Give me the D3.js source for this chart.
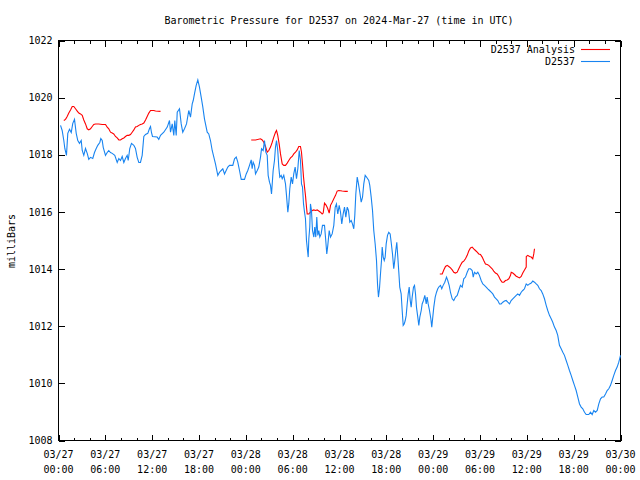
<!DOCTYPE html>
<html><head><meta charset="utf-8">
<script src="https://cdn.jsdelivr.net/npm/d3@7"></script>
<style>body{margin:0;background:#fff}svg{display:block}</style>
</head><body><svg id="c" width="640" height="480"></svg>
<script>
const title = "Barometric Pressure for D2537 on 2024-Mar-27 (time in UTC)";
const yLabel = "milliBars";
const seriesNames = ["D2537 Analysis", "D2537"];
const seriesColors = ["#ff0000", "#1884f0"];
const xTickHours = [0,6,12,18,24,30,36,42,48,54,60,66,72];
const xTickDates = ["03/27","03/27","03/27","03/27","03/28","03/28","03/28","03/28","03/29","03/29","03/29","03/29","03/30"];
const xTickTimes = ["00:00","06:00","12:00","18:00","00:00","06:00","12:00","18:00","00:00","06:00","12:00","18:00","00:00"];
const xMinorHours = d3.range(0, 73, 2);
const yTicks = [1008,1010,1012,1014,1016,1018,1020,1022];

// D2537 observations: [hours since 03/27 00:00 UTC, mbar]
const d2537 = [[0.26,1019.03],[0.47,1018.85],[0.68,1018.50],[0.81,1018.22],[1.02,1017.98],[1.19,1018.75],[1.41,1018.89],[1.63,1018.78],[1.83,1019.10],[2.05,1019.24],[2.27,1018.75],[2.47,1018.50],[2.69,1018.40],[2.91,1018.50],[3.04,1018.15],[3.24,1017.98],[3.46,1018.22],[3.68,1018.05],[3.88,1017.84],[4.10,1017.91],[4.39,1017.87],[4.61,1018.08],[4.83,1018.22],[5.03,1018.33],[5.29,1018.43],[5.42,1018.57],[5.60,1018.50],[5.73,1018.26],[6.02,1017.98],[6.24,1018.08],[6.44,1018.15],[6.66,1018.08],[6.88,1018.05],[7.21,1017.98],[7.52,1017.73],[7.73,1017.87],[7.94,1017.80],[8.16,1017.94],[8.37,1017.73],[8.58,1017.87],[8.80,1017.98],[8.93,1017.80],[9.13,1018.22],[9.35,1018.40],[9.65,1018.33],[9.86,1018.22],[10.08,1017.91],[10.29,1017.73],[10.50,1017.73],[10.72,1017.98],[10.93,1018.64],[11.15,1018.71],[11.44,1018.75],[11.66,1018.92],[11.79,1018.99],[11.91,1018.78],[12.04,1018.64],[12.64,1018.62],[12.85,1018.54],[13.07,1018.68],[13.49,1018.79],[13.93,1018.97],[14.22,1019.20],[14.35,1018.79],[14.57,1019.08],[14.77,1018.68],[14.90,1019.20],[15.08,1018.68],[15.21,1019.49],[15.50,1019.61],[15.72,1019.08],[15.92,1018.79],[16.14,1018.91],[16.40,1019.08],[16.69,1019.55],[16.91,1019.32],[17.13,1019.78],[17.26,1019.90],[17.42,1020.13],[17.64,1020.43],[17.85,1020.62],[18.06,1020.37],[18.28,1020.02],[18.49,1019.67],[18.70,1019.26],[19.05,1018.79],[19.25,1018.73],[19.47,1018.50],[19.69,1018.15],[19.90,1017.92],[20.11,1017.68],[20.41,1017.28],[20.63,1017.39],[20.84,1017.45],[21.05,1017.51],[21.27,1017.33],[21.48,1017.45],[21.69,1017.57],[21.91,1017.63],[22.33,1017.63],[22.55,1017.86],[22.77,1017.92],[22.97,1017.74],[23.19,1017.45],[23.41,1017.14],[23.83,1017.14],[24.05,1017.33],[24.25,1017.45],[24.47,1017.63],[24.69,1017.82],[24.81,1017.51],[24.94,1017.74],[25.11,1017.63],[25.24,1017.33],[25.46,1017.45],[25.66,1017.57],[25.88,1017.92],[26.01,1018.21],[26.22,1018.15],[26.39,1018.50],[26.56,1018.09],[26.74,1017.98],[26.86,1017.28],[27.03,1017.04],[27.16,1016.93],[27.29,1016.63],[27.38,1016.98],[27.50,1017.45],[27.67,1017.80],[27.80,1018.27],[27.93,1018.50],[28.09,1018.15],[28.22,1017.57],[28.35,1017.22],[28.53,1017.28],[28.66,1017.16],[28.86,1017.28],[29.08,1016.98],[29.21,1016.58],[29.38,1015.99],[29.50,1016.28],[29.63,1016.81],[29.81,1017.22],[29.98,1016.98],[30.14,1017.33],[30.32,1017.57],[30.49,1017.16],[30.66,1017.51],[30.84,1018.15],[31.00,1017.80],[31.13,1016.98],[31.26,1016.87],[31.39,1016.28],[31.52,1015.99],[31.64,1015.76],[31.77,1015.00],[31.90,1014.65],[31.99,1014.42],[32.07,1015.06],[32.19,1015.47],[32.28,1016.28],[32.41,1016.05],[32.54,1015.35],[32.71,1015.12],[32.83,1015.47],[32.96,1015.12],[33.09,1015.82],[33.22,1015.18],[33.35,1015.35],[33.48,1015.12],[33.65,1015.23],[33.82,1015.53],[34.08,1015.53],[34.24,1015.00],[34.37,1014.53],[34.50,1014.83],[34.68,1015.35],[34.85,1015.12],[35.06,1015.23],[35.27,1015.53],[35.45,1016.17],[35.61,1016.28],[35.78,1015.93],[35.96,1016.23],[36.13,1015.99],[36.29,1015.58],[36.47,1015.93],[36.64,1016.17],[36.81,1015.82],[36.99,1016.17],[37.15,1016.05],[37.32,1015.64],[37.50,1015.70],[37.66,1015.58],[37.83,1015.41],[37.96,1015.88],[38.09,1016.63],[38.27,1017.22],[38.43,1016.98],[38.60,1016.69],[38.78,1016.34],[38.95,1016.52],[39.11,1016.98],[39.29,1017.28],[39.46,1017.22],[39.75,1017.10],[39.88,1016.93],[40.06,1016.52],[40.23,1016.05],[40.39,1015.35],[40.57,1014.88],[40.74,1014.30],[40.87,1013.48],[40.99,1013.02],[41.12,1013.31],[41.25,1013.83],[41.38,1014.30],[41.47,1014.77],[41.60,1014.42],[41.73,1014.30],[41.85,1014.42],[41.98,1014.88],[42.15,1015.18],[42.31,1015.29],[42.49,1015.23],[42.62,1014.94],[42.79,1014.53],[42.95,1014.01],[43.08,1014.30],[43.21,1014.65],[43.34,1014.94],[43.47,1014.42],[43.60,1013.89],[43.72,1013.37],[43.90,1013.13],[44.03,1012.55],[44.16,1012.03],[44.29,1012.08],[44.42,1012.20],[44.54,1012.37],[44.67,1012.78],[44.80,1013.13],[44.93,1013.37],[45.06,1012.90],[45.18,1012.67],[45.31,1013.02],[45.48,1013.37],[45.61,1013.43],[45.74,1013.13],[45.86,1012.67],[46.03,1012.32],[46.16,1012.03],[46.29,1012.32],[46.47,1012.55],[46.59,1012.78],[46.76,1012.90],[46.93,1013.08],[47.11,1012.78],[47.23,1013.02],[47.36,1012.78],[47.53,1012.55],[47.70,1012.26],[47.82,1011.97],[47.95,1012.32],[48.08,1012.67],[48.26,1013.02],[48.43,1013.19],[48.59,1013.31],[48.77,1013.39],[48.94,1013.43],[49.10,1013.31],[49.28,1013.43],[49.49,1013.54],[49.71,1013.72],[49.87,1013.60],[50.05,1013.43],[50.22,1013.18],[50.44,1012.96],[50.64,1012.90],[50.86,1013.02],[51.08,1013.08],[51.28,1013.25],[51.50,1013.43],[51.72,1013.37],[51.92,1013.66],[52.14,1013.72],[52.36,1013.89],[52.56,1014.01],[52.78,1014.01],[53.00,1013.95],[53.13,1013.72],[53.29,1013.89],[53.51,1013.83],[53.72,1013.89],[53.93,1013.78],[54.15,1013.60],[54.36,1013.48],[54.57,1013.43],[54.79,1013.37],[55.00,1013.31],[55.22,1013.25],[55.43,1013.19],[55.64,1013.13],[55.86,1013.02],[56.07,1012.96],[56.28,1012.90],[56.50,1012.78],[56.71,1012.78],[56.92,1012.84],[57.14,1012.88],[57.35,1012.90],[57.56,1012.84],[57.78,1012.78],[57.99,1012.90],[58.20,1012.96],[58.42,1013.02],[58.64,1013.08],[58.84,1013.13],[59.06,1013.08],[59.28,1013.19],[59.48,1013.25],[59.70,1013.31],[59.92,1013.48],[60.12,1013.43],[60.34,1013.48],[60.56,1013.51],[60.76,1013.58],[60.98,1013.54],[61.20,1013.48],[61.40,1013.43],[61.62,1013.31],[61.84,1013.25],[62.04,1013.13],[62.26,1012.96],[62.48,1012.73],[62.68,1012.55],[62.90,1012.38],[63.12,1012.26],[63.32,1012.14],[63.54,1011.97],[63.76,1011.85],[63.96,1011.68],[64.18,1011.33],[64.40,1011.21],[64.61,1011.09],[64.82,1010.98],[65.04,1010.80],[65.25,1010.63],[65.46,1010.45],[65.68,1010.28],[65.89,1010.10],[66.10,1009.93],[66.32,1009.75],[66.53,1009.52],[66.75,1009.28],[66.96,1009.17],[67.17,1009.11],[67.39,1008.99],[67.60,1008.91],[67.94,1008.91],[68.16,1008.99],[68.37,1008.91],[68.58,1009.05],[68.80,1008.99],[69.02,1009.05],[69.22,1009.28],[69.44,1009.46],[69.65,1009.52],[69.86,1009.52],[70.08,1009.63],[70.29,1009.75],[70.50,1009.81],[70.72,1009.93],[70.93,1010.10],[71.14,1010.28],[71.36,1010.45],[71.57,1010.57],[71.78,1010.74],[72.00,1010.98]];

// D2537 Analysis: [hours, mbar]; null marks a gap
const d2537Analysis = [[0.68,1019.20],[0.90,1019.24],[1.11,1019.34],[1.32,1019.46],[1.54,1019.57],[1.76,1019.69],[1.96,1019.69],[2.18,1019.61],[2.40,1019.53],[2.60,1019.46],[2.82,1019.43],[3.04,1019.38],[3.24,1019.22],[3.46,1019.08],[3.68,1018.91],[3.88,1018.87],[4.10,1018.91],[4.32,1018.99],[4.52,1019.06],[4.74,1019.08],[5.16,1019.08],[5.60,1019.06],[6.02,1019.06],[6.24,1018.97],[6.44,1018.91],[6.66,1018.79],[6.88,1018.76],[7.08,1018.73],[7.30,1018.64],[7.52,1018.59],[7.73,1018.52],[7.94,1018.52],[8.16,1018.56],[8.37,1018.59],[8.58,1018.64],[8.80,1018.68],[9.01,1018.68],[9.22,1018.71],[9.44,1018.79],[9.65,1018.87],[9.86,1018.97],[10.08,1018.99],[10.29,1019.03],[10.50,1019.06],[10.72,1019.08],[10.93,1019.11],[11.15,1019.22],[11.36,1019.34],[11.57,1019.46],[11.79,1019.55],[12.00,1019.55],[12.21,1019.55],[12.43,1019.53],[13.07,1019.52],
null,
[24.69,1018.52],[25.24,1018.52],[25.88,1018.56],[26.10,1018.52],[26.30,1018.44],[26.52,1018.29],[26.74,1018.09],[26.94,1018.15],[27.16,1018.27],[27.38,1018.44],[27.58,1018.62],[27.80,1018.79],[27.93,1018.85],[28.09,1018.68],[28.27,1018.38],[28.44,1018.03],[28.66,1017.68],[28.86,1017.63],[29.08,1017.63],[29.30,1017.71],[29.50,1017.80],[29.72,1017.89],[29.94,1017.94],[30.14,1018.03],[30.36,1018.09],[30.58,1018.17],[30.78,1018.29],[31.00,1018.29],[31.13,1018.09],[31.26,1017.68],[31.39,1017.22],[31.52,1016.87],[31.64,1016.58],[31.77,1016.17],[31.86,1015.93],[32.07,1015.93],[32.28,1015.99],[32.50,1016.05],[32.71,1016.07],[32.92,1016.05],[33.14,1016.07],[33.35,1016.03],[33.56,1015.99],[33.78,1015.93],[33.91,1015.96],[34.08,1016.31],[34.30,1016.23],[34.50,1016.11],[34.68,1015.96],[34.85,1016.23],[35.06,1016.34],[35.27,1016.46],[35.49,1016.58],[35.70,1016.73],[35.91,1016.75],[36.34,1016.73],[36.77,1016.72],[37.06,1016.72],
null,
[48.85,1013.83],[49.16,1013.83],[49.36,1013.97],[49.58,1014.09],[49.80,1014.13],[50.00,1014.09],[50.22,1014.04],[50.44,1013.97],[50.64,1013.89],[50.86,1013.86],[51.08,1013.89],[51.28,1014.01],[51.50,1014.13],[51.72,1014.24],[51.92,1014.28],[52.14,1014.36],[52.36,1014.48],[52.56,1014.63],[52.78,1014.74],[53.00,1014.77],[53.20,1014.71],[53.42,1014.65],[53.64,1014.59],[53.84,1014.53],[54.06,1014.51],[54.28,1014.42],[54.48,1014.30],[54.70,1014.18],[54.92,1014.16],[55.12,1014.13],[55.34,1014.07],[55.56,1014.01],[55.76,1013.93],[55.98,1013.86],[56.20,1013.83],[56.41,1013.74],[56.62,1013.62],[56.84,1013.54],[57.05,1013.54],[57.26,1013.60],[57.48,1013.62],[57.69,1013.66],[57.91,1013.78],[58.00,1013.89],[58.20,1013.86],[58.42,1013.81],[58.64,1013.75],[58.84,1013.72],[59.06,1013.69],[59.28,1013.74],[59.48,1013.86],[59.70,1013.97],[59.92,1014.07],[59.93,1014.44],[60.12,1014.48],[60.34,1014.44],[60.56,1014.42],[60.76,1014.36],[60.89,1014.53],[60.98,1014.71]];

const svg = d3.select("#c");
const font = "'DejaVu Sans Mono', monospace";
const x = d3.scaleLinear().domain([0, 72]).range([58.5, 620.5]);
const y = d3.scaleLinear().domain([1008, 1022]).range([440.5, 40.5]);

function styleAxis(g) {
  g.select(".domain").remove();
  g.selectAll("line").attr("stroke", "#000").attr("shape-rendering", "crispEdges");
  g.selectAll("text").attr("font-family", font).attr("font-size", 10).attr("fill", "#000");
}

// axes (inward ticks, mirrored)
svg.append("g").attr("transform", `translate(0,${y(1008)})`)
  .call(d3.axisBottom(x).tickValues(xMinorHours).tickSize(-3).tickFormat("")).call(styleAxis);
svg.append("g").attr("transform", `translate(0,${y(1008)})`)
  .call(d3.axisBottom(x).tickValues(xTickHours).tickSize(-6).tickFormat("")).call(styleAxis);
svg.append("g").attr("transform", `translate(0,${y(1022)})`)
  .call(d3.axisTop(x).tickValues(xMinorHours).tickSize(-3).tickFormat("")).call(styleAxis);
svg.append("g").attr("transform", `translate(0,${y(1022)})`)
  .call(d3.axisTop(x).tickValues(xTickHours).tickSize(-6).tickFormat("")).call(styleAxis);
svg.append("g").attr("transform", `translate(${x(0)},0)`)
  .call(d3.axisLeft(y).tickValues(yTicks).tickSize(-6).tickPadding(6).tickFormat(d3.format("d"))).call(styleAxis);
svg.append("g").attr("transform", `translate(${x(72)},0)`)
  .call(d3.axisRight(y).tickValues(yTicks).tickSize(-6).tickFormat("")).call(styleAxis);

// border
svg.append("rect")
  .attr("x", x(0)).attr("y", y(1022))
  .attr("width", x(72) - x(0)).attr("height", y(1008) - y(1022))
  .attr("fill", "none").attr("stroke", "#000").attr("shape-rendering", "crispEdges");

// x tick labels (two lines)
const xl = svg.append("g").attr("font-family", font).attr("font-size", 10).attr("fill", "#000").attr("text-anchor", "middle");
xl.selectAll("text").data(xTickHours).join("text")
  .attr("x", d => x(d)).attr("y", 458)
  .each(function(d, i) {
    const t = d3.select(this);
    t.append("tspan").attr("x", x(d)).attr("dy", 0).text(xTickDates[i]);
    t.append("tspan").attr("x", x(d)).attr("dy", 14.5).text(xTickTimes[i]);
  });

// lines
const line = d3.line().defined(d => d != null).x(d => x(d[0])).y(d => y(d[1]));
svg.append("path").datum(d2537Analysis).attr("d", line)
  .attr("fill", "none").attr("stroke", seriesColors[0]).attr("stroke-width", 1.1);
svg.append("path").datum(d2537).attr("d", line)
  .attr("fill", "none").attr("stroke", seriesColors[1]).attr("stroke-width", 1.1);

// title
svg.append("text").attr("x", 339).attr("y", 24).attr("text-anchor", "middle")
  .attr("font-family", font).attr("font-size", 10).text(title);

// y label
svg.append("text").attr("transform", "translate(15,241) rotate(-90)").attr("text-anchor", "middle")
  .attr("font-family", font).attr("font-size", 10).text(yLabel);

// legend
const lg = svg.append("g").attr("font-family", font).attr("font-size", 10);
seriesNames.forEach((name, i) => {
  const yy = 49.5 + i * 12;
  lg.append("text").attr("x", 575).attr("y", yy + 3.5).attr("text-anchor", "end").text(name);
  lg.append("line").attr("x1", 581).attr("x2", 610).attr("y1", yy).attr("y2", yy)
    .attr("stroke", seriesColors[i]).attr("stroke-width", 1.1);
});
</script>
</body></html>
